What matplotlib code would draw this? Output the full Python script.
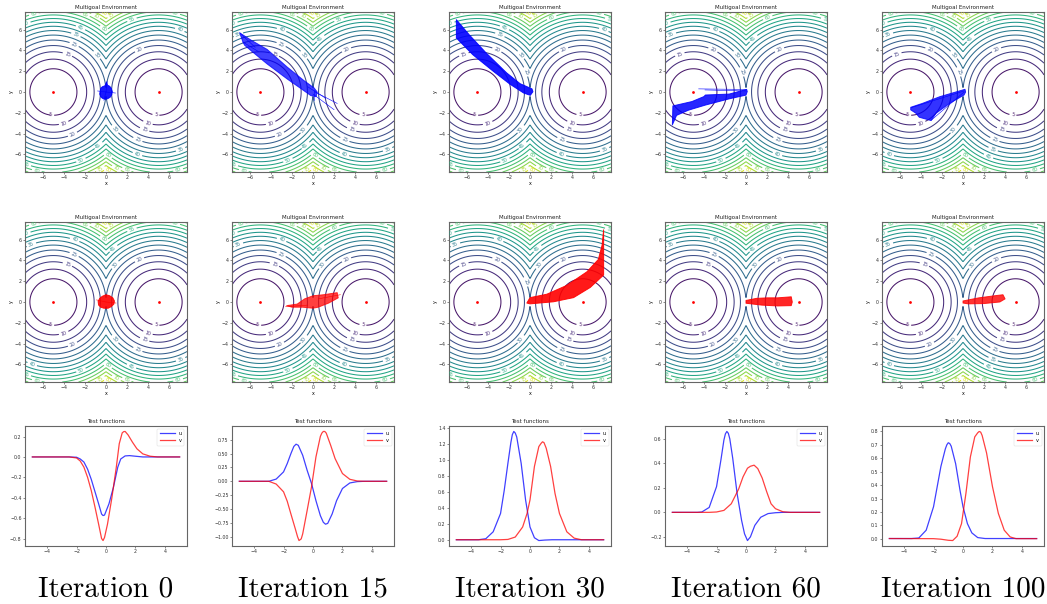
import numpy as np
import matplotlib
matplotlib.use("Agg")
import matplotlib.pyplot as plt
from matplotlib.patches import Polygon

# ---------------- data ----------------
iterations = ["Iteration 0", "Iteration 15", "Iteration 30", "Iteration 60", "Iteration 100"]
goal_x = [-5.0, 5.0]
goal_y = [0.0, 0.0]
env_lim = 7.0
contour_levels = [5, 10, 15, 20, 25, 30, 35, 40, 45, 50, 55, 60, 65, 70, 75, 80]

# trajectory envelopes (blue: row 1, red: row 2)
blue_shapes = [
    [(-0.55, 0.1), (-0.6, -0.2), (-0.5, -0.45), (-0.35, -0.6), (-0.1, -0.7), (0.15, -0.65), (0.4, -0.5),
     (0.55, -0.25), (0.6, 0.05), (0.5, 0.35), (0.35, 0.55), (0.15, 0.65), (0.05, 0.95), (-0.1, 0.6),
     (-0.35, 0.5), (-0.5, 0.35)],
    [(-6.97, 5.7), (-5.9, 5.0), (-4.36, 4.1), (-2.45, 2.4), (-0.86, 1.1), (0.1, 0.4), (0.4, 0.0),
     (0.3, -0.45), (-0.2, -0.35), (-1.18, 0.35), (-2.45, 1.25), (-4.36, 2.7), (-5.8, 3.9), (-6.5, 4.5),
     (-6.66, 4.8)],
    [(-7.0, 6.96), (-5.77, 5.5), (-4.16, 3.75), (-2.23, 1.85), (-0.94, 0.8), (0.19, 0.3), (0.28, 0.03),
     (0.03, -0.32), (-0.6, -0.1), (-1.9, 0.75), (-3.5, 2.0), (-5.45, 3.6), (-7.0, 5.2)],
    [(-6.95, -1.34), (-5.14, -0.92), (-4.0, -0.44), (-3.86, -0.29), (-1.6, -0.2), (0.06, 0.25), (0.12, 0.05),
     (0.0, -0.3), (-1.6, -0.66), (-3.86, -1.26), (-5.47, -1.75), (-6.6, -2.25), (-7.0, -3.16)],
    [(0.19, 0.26), (-2.2, -0.45), (-3.84, -1.09), (-4.97, -1.47), (-4.97, -1.72), (-4.48, -2.04),
     (-4.16, -2.43), (-3.03, -2.75), (-2.55, -2.04), (-1.26, -1.09), (0.1, -0.29), (0.25, 0.0)],
]
blue_strays = [
    [[(0, 0), (0.1, 1.05)], [(0, 0), (-0.8, 0.1)], [(0, 0), (0.9, -0.1)], [(0, 0), (-0.2, -0.8)]],
    [[(0.2, 0), (2.3, -1.1)], [(0, -0.2), (2.0, -1.7)], [(-0.5, 0.5), (1.2, -0.6)],
     [(-6.97, 5.7), (-5.5, 4.3)], [(-6.66, 4.8), (-5.2, 3.9)], [(0.1, 0.2), (0.1, -0.77)]],
    [],
    [[(-4.5, 0.3), (-3.0, 0.28), (0.05, 0.25)], [(-3.9, 0.2), (0.0, 0.1)]],
    [[(0.1, 0.1), (-4.9, -1.5)], [(0.1, 0.0), (-3.0, -2.7)]],
]
red_shapes = [
    [(-0.75, 0.05), (-0.7, -0.3), (-0.5, -0.5), (-0.2, -0.6), (0.2, -0.6), (0.5, -0.45), (0.75, -0.2),
     (0.8, 0.1), (0.65, 0.4), (0.35, 0.6), (0.0, 0.7), (-0.35, 0.55), (-0.6, 0.35)],
    [(-2.5, -0.35), (-1.5, -0.2), (-0.8, 0.3), (0.0, 0.6), (1.0, 0.7), (2.3, 0.9), (2.4, 0.4), (1.5, -0.1),
     (0.5, -0.5), (0.0, -0.6), (-1.0, -0.5), (-2.0, -0.5)],
    [(-0.3, -0.1), (0.0, 0.42), (1.6, 0.75), (3.5, 1.6), (5.4, 2.9), (6.5, 4.1), (6.85, 5.46), (7.0, 6.95),
     (7.0, 2.6), (5.73, 1.4), (4.14, 0.42), (2.23, 0.02), (0.0, -0.18)],
    [(0.0, 0.15), (1.0, 0.35), (2.0, 0.4), (3.0, 0.4), (4.3, 0.5), (4.4, 0.0), (4.3, -0.35), (3.0, -0.38),
     (1.5, -0.3), (0.0, -0.12)],
    [(0.0, 0.1), (1.5, 0.4), (3.0, 0.6), (3.8, 0.7), (4.0, 0.3), (3.5, 0.0), (2.0, -0.15), (0.5, -0.18),
     (0.0, -0.1)],
]
red_strays = [
    [[(0, 0), (-0.9, 0.2)], [(0, 0), (0.95, -0.1)]],
    [[(-0.5, -0.3), (-2.6, -0.45)], [(0.5, 0.3), (2.6, 0.7)]],
    [],
    [],
    [],
]

# test functions u and v
u_x = [
    [-5, -2.5, -2, -1.75, -1.5, -1.25, -1, -0.75, -0.5, -0.3, -0.2, -0.1, 0.2, 0.5, 0.8, 1.0, 1.3, 1.6, 2.0, 2.5, 5],
    [-5, -3, -2.5, -2, -1.75, -1.5, -1.3, -1.15, -1.0, -0.7, -0.4, -0.1, 0.2, 0.5, 0.7, 0.85, 1.0, 1.3, 1.6, 2.0, 2.5, 3.0, 3.5, 5],
    [-5, -3.5, -3, -2.5, -2, -1.75, -1.5, -1.3, -1.2, -1.1, -1.0, -0.9, -0.6, -0.3, 0, 0.3, 0.6, 1.0, 1.5, 5],
    [-5, -3.3, -3, -2.5, -2, -1.7, -1.5, -1.4, -1.3, -1.2, -1.1, -0.9, -0.6, -0.3, -0.1, 0.1, 0.3, 0.6, 1.0, 1.5, 2.0, 2.5, 5],
    [-5, -3.5, -3, -2.5, -2, -1.5, -1.2, -1.1, -1.0, -0.9, -0.8, -0.5, -0.2, 0, 0.3, 0.6, 1.0, 1.5, 2.0, 5],
]
u_y = [
    [0, 0, -0.003, -0.02, -0.05, -0.12, -0.22, -0.34, -0.46, -0.56, -0.575, -0.57, -0.46, -0.30, -0.10, -0.02, 0.01, 0.013, 0.007, 0, 0],
    [0, 0, 0.04, 0.17, 0.32, 0.50, 0.63, 0.67, 0.65, 0.47, 0.2, -0.04, -0.35, -0.62, -0.74, -0.775, -0.76, -0.59, -0.35, -0.13, -0.03, -0.006, 0, 0],
    [0, 0, 0.013, 0.1, 0.33, 0.62, 0.96, 1.22, 1.32, 1.36, 1.34, 1.29, 0.96, 0.5, 0.16, 0.025, -0.01, -0.004, 0, 0],
    [0, 0, 0.003, 0.04, 0.21, 0.43, 0.59, 0.64, 0.66, 0.645, 0.60, 0.44, 0.15, -0.065, -0.175, -0.23, -0.2, -0.106, -0.04, -0.01, -0.003, 0, 0],
    [0.003, 0.003, 0.007, 0.065, 0.24, 0.54, 0.67, 0.70, 0.716, 0.71, 0.69, 0.56, 0.36, 0.24, 0.114, 0.045, 0.01, 0.003, 0.003, 0.003],
]
v_x = [
    [-5, -2.5, -2, -1.75, -1.5, -1.25, -1, -0.75, -0.5, -0.3, -0.2, -0.1, 0.1, 0.4, 0.7, 0.9, 1.1, 1.2, 1.3, 1.5, 1.8, 2.1, 2.5, 3.0, 3.5, 5],
    [-5, -3, -2.5, -2, -1.75, -1.5, -1.2, -1.05, -0.95, -0.8, -0.7, -0.4, -0.1, 0.2, 0.5, 0.6, 0.7, 0.8, 0.9, 1.2, 1.5, 2.0, 2.5, 3.0, 3.5, 5],
    [-5, -2, -1.5, -1, -0.5, -0.2, 0, 0.3, 0.6, 0.75, 0.85, 0.95, 1.1, 1.4, 1.7, 2.0, 2.5, 3.0, 3.5, 5],
    [-5, -2.5, -2, -1.5, -1, -0.5, -0.2, 0.1, 0.3, 0.55, 0.8, 1.1, 1.4, 1.7, 2.0, 2.5, 3.0, 5],
    [-5, -2, -1.5, -1, -0.7, -0.4, -0.1, 0.2, 0.5, 0.8, 1.0, 1.1, 1.2, 1.3, 1.6, 2.0, 2.4, 2.8, 3.2, 3.6, 4, 5],
]
v_y = [
    [0, 0, -0.01, -0.04, -0.10, -0.2, -0.33, -0.49, -0.66, -0.80, -0.82, -0.79, -0.66, -0.40, -0.10, 0.13, 0.236, 0.248, 0.25, 0.216, 0.144, 0.08, 0.03, 0.007, 0, 0],
    [0, 0, -0.05, -0.19, -0.36, -0.59, -0.86, -1.0, -1.07, -1.04, -0.95, -0.53, -0.10, 0.44, 0.81, 0.87, 0.90, 0.90, 0.87, 0.65, 0.41, 0.14, 0.036, 0.006, 0, 0],
    [0, 0, 0.004, 0.034, 0.16, 0.33, 0.5, 0.92, 1.17, 1.21, 1.23, 1.22, 1.15, 0.92, 0.58, 0.33, 0.1, 0.02, 0, 0],
    [0, 0, 0.003, 0.016, 0.07, 0.19, 0.29, 0.36, 0.376, 0.385, 0.357, 0.28, 0.17, 0.07, 0.03, 0.005, 0, 0],
    [0.003, 0.002, -0.002, -0.01, -0.012, 0.02, 0.114, 0.34, 0.61, 0.76, 0.79, 0.80, 0.795, 0.77, 0.64, 0.39, 0.19, 0.065, 0.015, 0.002, 0.002, 0.002],
]

# ---------------- layout ----------------
W, H = 1047, 604
fig = plt.figure(figsize=(W / 100, H / 100), dpi=100)
col_left = [25, 232, 449, 665, 882]
col_w = 162
rows_px = [(12, 172), (222, 382), (426, 546)]

TICK = 3.4
spine_col = "#666666"


def make_ax(c, r):
    top, bot = rows_px[r]
    ax = fig.add_axes([col_left[c] / W, 1 - bot / H, col_w / W, (bot - top) / H])
    ax.tick_params(labelsize=TICK, length=1.5, width=0.4, pad=1, colors="#333333")
    for s in ax.spines.values():
        s.set_linewidth(0.8)
        s.set_color(spine_col)
    return ax


lim = 1.1 * env_lim
gx = np.arange(-lim, lim, 0.04)
X, Y = np.meshgrid(gx, gx)
costs = np.amin([(X - a) ** 2 + (Y - b) ** 2 for a, b in zip(goal_x, goal_y)], axis=0)


def env_panel(ax, shape, strays, color, alpha):
    cs = ax.contour(X, Y, costs, levels=contour_levels, vmin=0, vmax=85, linewidths=0.75)
    ax.clabel(cs, inline=1, fontsize=3.4, fmt="%.0f", inline_spacing=2)
    ax.set_xlim(-lim, lim)
    ax.set_ylim(-lim, lim)
    ax.plot(goal_x, goal_y, "o", color="red", markersize=2.0, markeredgewidth=0)
    ax.add_patch(Polygon(shape, closed=True, facecolor=color, edgecolor=color, linewidth=0.7, alpha=alpha,
                         joinstyle="round", zorder=3))
    for path in strays:
        p = np.array(path)
        ax.plot(p[:, 0], p[:, 1], color=color, linewidth=0.4, zorder=3)
    ax.set_title("Multigoal Environment", fontsize=4.0, pad=2, color="#222222")
    ax.set_xlabel("x", fontsize=TICK, labelpad=0.5)
    ax.set_ylabel("y", fontsize=TICK, labelpad=0.5)
    ax.set_xticks([-6, -4, -2, 0, 2, 4, 6])
    ax.set_yticks([-6, -4, -2, 0, 2, 4, 6])


shape_alpha = [0.9, 0.75, 0.9, 0.85, 0.8]
for c in range(5):
    env_panel(make_ax(c, 0), blue_shapes[c], blue_strays[c], "blue", shape_alpha[c])
    env_panel(make_ax(c, 1), red_shapes[c], red_strays[c], "red", shape_alpha[c])
    ax = make_ax(c, 2)
    ax.plot(u_x[c], u_y[c], color="blue", alpha=0.75, linewidth=0.9, label="u")
    ax.plot(v_x[c], v_y[c], color="red", alpha=0.75, linewidth=0.9, label="v")
    ax.set_title("Test functions", fontsize=4.0, pad=2, color="#222222")
    ax.set_xticks([-4, -2, 0, 2, 4])
    leg = ax.legend(loc="upper right", fontsize=3.6, handlelength=3.0, borderpad=0.5, labelspacing=0.4,
                    framealpha=0.8, handletextpad=0.8)
    leg.get_frame().set_linewidth(0.3)
    cx = (col_left[c] + col_w / 2) / W
    fig.text(cx, 1 - 589 / H, iterations[c], fontsize=21, family="cmr10", ha="center", va="center")

fig.savefig("out.png", dpi=100)
